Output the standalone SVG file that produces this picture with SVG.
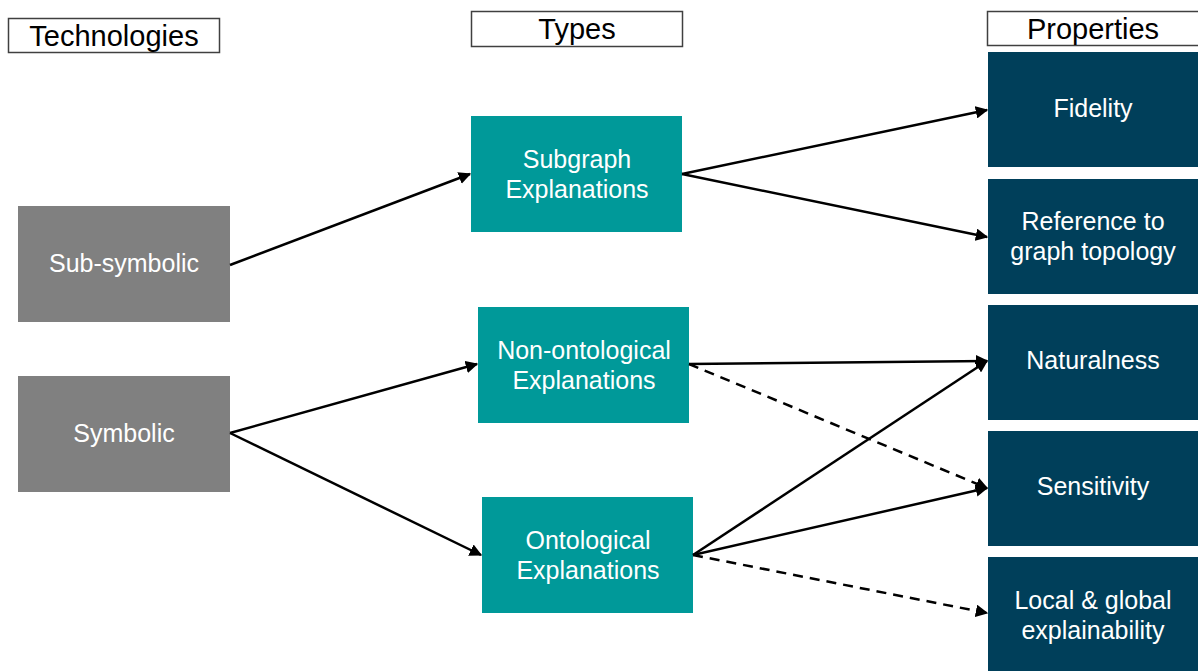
<svg xmlns="http://www.w3.org/2000/svg" width="1198" height="671" viewBox="0 0 1198 671">
  <defs>
    <style>
      .hdr { fill: #ffffff; stroke: #404040; stroke-width: 1.5; }
      .hdr-t { font-family: "Liberation Sans", Arial, sans-serif; font-size: 29px; fill: #000000; text-anchor: middle; }
      .tech { fill: #808080; }
      .type { fill: #009999; }
      .prop { fill: #003F5A; }
      .lbl { font-family: "Liberation Sans", Arial, sans-serif; font-size: 25px; fill: #ffffff; text-anchor: middle; }
      .edge { stroke: #000000; stroke-width: 2.5; fill: none; marker-end: url(#arrow); }
      .dash { stroke-dasharray: 10 7; }
    </style>
    <marker id="arrow" viewBox="0 0 10 10" refX="9" refY="5" markerWidth="5" markerHeight="5" orient="auto" markerUnits="strokeWidth">
      <path d="M0,0 L10,5 L0,10 z" fill="#000000"/>
    </marker>
  </defs>
  <rect width="1198" height="671" fill="#ffffff"/>

  <!-- column headers -->
  <g id="hdr-technologies">
    <rect class="hdr" x="8.5" y="18.5" width="211" height="34"/>
    <text class="hdr-t" x="114" y="46">Technologies</text>
  </g>
  <g id="hdr-types">
    <rect class="hdr" x="471.5" y="11.5" width="211" height="35"/>
    <text class="hdr-t" x="577" y="39">Types</text>
  </g>
  <g id="hdr-properties">
    <rect class="hdr" x="987.5" y="11.5" width="212" height="34"/>
    <text class="hdr-t" x="1093" y="39">Properties</text>
  </g>

  <!-- technologies -->
  <g id="sub-symbolic">
    <rect class="tech" x="18" y="206" width="212" height="116"/>
    <text class="lbl" x="124" y="272">Sub-symbolic</text>
  </g>
  <g id="symbolic">
    <rect class="tech" x="18" y="376" width="212" height="116"/>
    <text class="lbl" x="124" y="442">Symbolic</text>
  </g>

  <!-- explanation types -->
  <g id="subgraph">
    <rect class="type" x="471" y="116" width="211" height="116"/>
    <text class="lbl" x="577" y="168">Subgraph</text>
    <text class="lbl" x="577" y="198">Explanations</text>
  </g>
  <g id="non-ontological">
    <rect class="type" x="478" y="307" width="211" height="116"/>
    <text class="lbl" x="584" y="359">Non-ontological</text>
    <text class="lbl" x="584" y="389">Explanations</text>
  </g>
  <g id="ontological">
    <rect class="type" x="482" y="497" width="211" height="116"/>
    <text class="lbl" x="588" y="549">Ontological</text>
    <text class="lbl" x="588" y="579">Explanations</text>
  </g>

  <!-- properties -->
  <g id="fidelity">
    <rect class="prop" x="988" y="52" width="210" height="115"/>
    <text class="lbl" x="1093" y="117">Fidelity</text>
  </g>
  <g id="reference">
    <rect class="prop" x="988" y="179" width="210" height="115"/>
    <text class="lbl" x="1093" y="230">Reference to</text>
    <text class="lbl" x="1093" y="260">graph topology</text>
  </g>
  <g id="naturalness">
    <rect class="prop" x="988" y="305" width="210" height="115"/>
    <text class="lbl" x="1093" y="369">Naturalness</text>
  </g>
  <g id="sensitivity">
    <rect class="prop" x="988" y="431" width="210" height="115"/>
    <text class="lbl" x="1093" y="495">Sensitivity</text>
  </g>
  <g id="local-global">
    <rect class="prop" x="988" y="557" width="210" height="114"/>
    <text class="lbl" x="1093" y="609">Local &amp; global</text>
    <text class="lbl" x="1093" y="639">explainability</text>
  </g>

  <!-- connectors -->
  <g id="connectors">
    <line class="edge" x1="230" y1="265" x2="470" y2="174"/>
    <line class="edge" x1="230" y1="433" x2="477" y2="364"/>
    <line class="edge" x1="230" y1="433" x2="481" y2="555"/>
    <line class="edge" x1="682" y1="174" x2="987" y2="110"/>
    <line class="edge" x1="682" y1="174" x2="987" y2="237"/>
    <line class="edge" x1="689" y1="364" x2="987" y2="361"/>
    <line class="edge dash" x1="689" y1="364" x2="987" y2="488"/>
    <line class="edge" x1="693" y1="555" x2="987" y2="361"/>
    <line class="edge" x1="693" y1="555" x2="987" y2="488"/>
    <line class="edge dash" x1="693" y1="555" x2="987" y2="613"/>
  </g>
</svg>
